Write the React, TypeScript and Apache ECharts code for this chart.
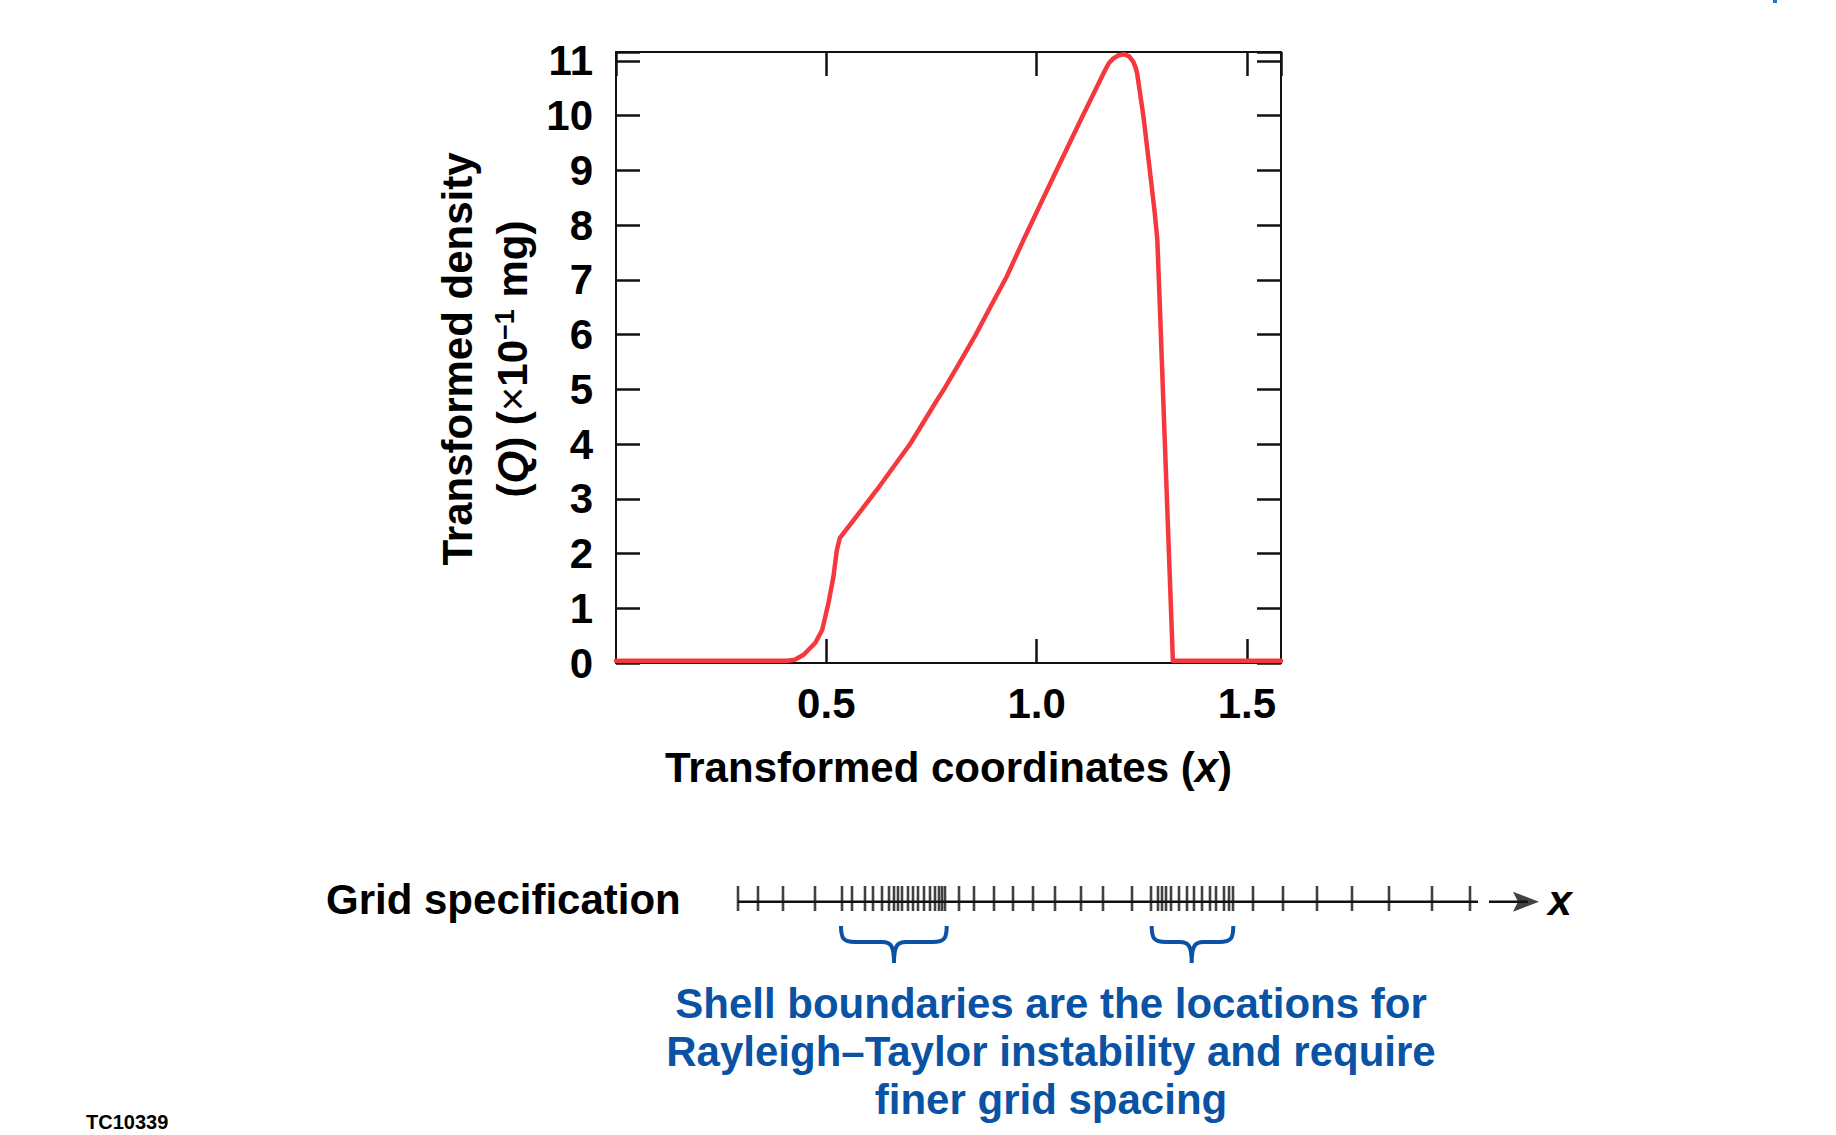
import React, { useEffect, useRef } from "react";
import * as echarts from "echarts";

// ---- Data ----
const curveX = [0, 0.407, 0.425, 0.446, 0.474, 0.49, 0.505, 0.517, 0.525, 0.532, 0.541, 0.62, 0.7, 0.763, 0.779, 0.818, 0.854, 0.892, 0.929, 0.969, 1.04, 1.103, 1.163, 1.172, 1.182, 1.195, 1.208, 1.22, 1.23, 1.236, 1.239, 1.254, 1.27, 1.281, 1.287, 1.293, 1.301, 1.324, 1.581];
const curveQ = [0.04, 0.04, 0.06, 0.15, 0.37, 0.6, 1.09, 1.58, 2.06, 2.28, 2.37, 3.16, 4.01, 4.8, 4.99, 5.5, 5.98, 6.53, 7.06, 7.73, 8.88, 9.89, 10.83, 10.96, 11.04, 11.1, 11.12, 11.08, 10.98, 10.86, 10.77, 9.98, 8.94, 8.21, 7.73, 6.51, 4.83, 0.04, 0.04];

// grid-specification tick locations along the schematic x line (arbitrary units)
const gridTicks = [0, 20, 45, 77, 104, 114, 127, 135, 144, 151, 156, 160, 164, 170, 175, 180, 186, 192, 197, 201, 204, 207, 221, 236, 256, 275, 295, 317, 343, 365, 394, 413, 420, 424, 428, 433, 441, 449, 456, 464, 472, 478, 486, 491, 495, 515, 545, 579, 614, 651, 694, 732];

const xTickLabels = ["0.5", "1.0", "1.5"];
const yTickLabels = ["0", "1", "2", "3", "4", "5", "6", "7", "8", "9", "10", "11"];

const X_MAX = 1.581;
const Y_MAX = 11.16;
const LINE_END = 740;
const AXIS_END = 810;
const LINE_V = 0.372;

const FONT = '"Liberation Sans", Arial, Helvetica, sans-serif';
const RED = "#f5383d";
const BLUE = "#0a52a3";
const INK = "#111";

function bracePath(w: number, c: number): string {
  return `M 0 0 C 0 12 2 16 14 16 L ${c - 12} 16 C ${c - 3} 16 ${c} 20 ${c} 37 C ${c} 20 ${c + 3} 16 ${c + 12} 16 L ${w - 14} 16 C ${w - 2} 16 ${w} 12 ${w} 0`;
}

let registered = false;
function registerShapes() {
  if (registered) return;
  registered = true;
  echarts.graphic.registerShape("brace1", echarts.graphic.extendPath(bracePath(105.7, 53), {}));
  echarts.graphic.registerShape("brace2", echarts.graphic.extendPath(bracePath(81.6, 40), {}));
}

export default function App() {
  const ref = useRef<HTMLDivElement>(null);

  useEffect(() => {
    if (!ref.current) return;
    registerShapes();
    const chart = echarts.init(ref.current, undefined, { renderer: "svg" });

    const xFmt = (v: number) => {
      const s = v.toFixed(1);
      return xTickLabels.includes(s) && Math.abs(v * 2 - Math.round(v * 2)) < 1e-9 ? s : "";
    };
    const yFmt = (v: number) => {
      const s = String(Math.round(v));
      return Math.abs(v - Math.round(v)) < 1e-9 && yTickLabels.includes(s) ? s : "";
    };

    const axisLine = { show: true, onZero: false, lineStyle: { color: INK, width: 2 } };
    const axisTick = { show: true, inside: true, length: 24, lineStyle: { color: INK, width: 2.5 } };
    const labelStyle = { fontSize: 42, fontWeight: "bold", color: "#000", fontFamily: FONT };

    const option: any = {
      animation: false,
      backgroundColor: "#ffffff",
      textStyle: { fontFamily: FONT },
      grid: [
        { left: 616, top: 52, width: 665, height: 611 },
        { left: 738, top: 886, width: AXIS_END, height: 25 },
      ],
      xAxis: [
        {
          type: "value", gridIndex: 0, position: "bottom", min: 0, max: X_MAX, interval: 0.5,
          axisLine, axisTick, splitLine: { show: false },
          axisLabel: { ...labelStyle, margin: 19, formatter: xFmt, showMinLabel: false, showMaxLabel: false },
          name: "Transformed coordinates ({i|x})", nameLocation: "middle", nameGap: 83,
          nameTextStyle: { ...labelStyle, rich: { i: { ...labelStyle, fontStyle: "italic" } } },
        },
        {
          type: "value", gridIndex: 0, position: "top", min: 0, max: X_MAX, interval: 0.5,
          axisLine, axisTick, splitLine: { show: false }, axisLabel: { show: false },
        },
        { type: "value", gridIndex: 1, min: 0, max: AXIS_END, show: false },
      ],
      yAxis: [
        {
          type: "value", gridIndex: 0, position: "left", min: 0, max: Y_MAX, interval: 1,
          axisLine, axisTick, splitLine: { show: false },
          axisLabel: { ...labelStyle, margin: 23, formatter: yFmt },
        },
        {
          type: "value", gridIndex: 0, position: "right", min: 0, max: Y_MAX, interval: 1,
          axisLine, axisTick, splitLine: { show: false }, axisLabel: { show: false },
        },
        { type: "value", gridIndex: 1, min: 0, max: 1, show: false },
      ],
      series: [
        {
          type: "line", xAxisIndex: 0, yAxisIndex: 0, z: 5,
          data: curveX.map((x, i) => [x, curveQ[i]]),
          symbol: "none", smooth: false,
          lineStyle: { color: RED, width: 4.5, cap: "round", join: "round" },
        },
        {
          type: "line", xAxisIndex: 2, yAxisIndex: 2,
          data: [[0, LINE_V], [LINE_END, LINE_V]],
          symbol: "none", lineStyle: { color: INK, width: 2.5 },
        },
        {
          type: "scatter", xAxisIndex: 2, yAxisIndex: 2,
          data: gridTicks.map((p) => [p, 0.5]),
          symbol: "rect", symbolSize: [2.6, 25], itemStyle: { color: INK },
        },
        {
          type: "line", xAxisIndex: 2, yAxisIndex: 2,
          data: [[751, LINE_V], [790, LINE_V]],
          symbol: "none", lineStyle: { color: INK, width: 2.5 },
        },
        {
          type: "scatter", xAxisIndex: 2, yAxisIndex: 2,
          data: [[788, LINE_V]],
          symbol: "path://M0,0 L26,10 L0,20 L5,10 Z", symbolSize: [26, 20], symbolKeepAspect: false,
          itemStyle: { color: INK },
        },
      ],
      graphic: [
        {
          type: "text", x: 457, y: 359, rotation: Math.PI / 2,
          style: { text: "Transformed density", fontSize: 42, fontWeight: "bold", fontFamily: FONT, fill: "#000", align: "center", verticalAlign: "middle", textAlign: "center", textVerticalAlign: "middle" },
        },
        {
          type: "text", x: 512, y: 359, rotation: Math.PI / 2,
          style: {
            text: "({q|Q}) ({n|×}10{s|−1} mg)",
            fontSize: 42, fontWeight: "bold", fontFamily: FONT, fill: "#000",
            align: "center", verticalAlign: "middle", textAlign: "center", textVerticalAlign: "middle",
            rich: {
              q: { fontSize: 42, fontWeight: "bold", fontStyle: "italic", fontFamily: FONT, fill: "#000" },
              n: { fontSize: 42, fontWeight: "normal", fontFamily: FONT, fill: "#000" },
              s: { fontSize: 27, fontWeight: "bold", fontFamily: FONT, fill: "#000", verticalAlign: "top", lineHeight: 27 },
            },
          },
        },
        {
          type: "text", x: 326, y: 899,
          style: { text: "Grid specification", fontSize: 42, fontWeight: "bold", fontFamily: FONT, fill: "#000", align: "left", verticalAlign: "middle", textAlign: "left", textVerticalAlign: "middle" },
        },
        {
          type: "text", x: 1548, y: 900,
          style: { text: "x", fontSize: 43, fontWeight: "bold", fontStyle: "italic", fontFamily: FONT, fill: "#000", align: "left", verticalAlign: "middle", textAlign: "left", textVerticalAlign: "middle" },
        },
        { type: "brace1", x: 841, y: 926, style: { fill: "none", stroke: BLUE, lineWidth: 4 } },
        { type: "brace2", x: 1151.7, y: 926, style: { fill: "none", stroke: BLUE, lineWidth: 4 } },
        {
          type: "text", x: 1051, y: 1051,
          style: {
            text: "Shell boundaries are the locations for\nRayleigh–Taylor instability and require\nfiner grid spacing",
            fontSize: 42, fontWeight: "bold", fontFamily: FONT, fill: BLUE, lineHeight: 48,
            align: "center", verticalAlign: "middle", textAlign: "center", textVerticalAlign: "middle",
          },
        },
        {
          type: "text", x: 86, y: 1122,
          style: { text: "TC10339", fontSize: 20, fontWeight: "bold", fontFamily: FONT, fill: "#000", align: "left", verticalAlign: "middle", textAlign: "left", textVerticalAlign: "middle" },
        },
        { type: "rect", shape: { x: 1773, y: 0, width: 4, height: 3 }, style: { fill: "#2a6fd6" } },
      ],
    };

    chart.setOption(option);
    return () => chart.dispose();
  }, []);

  return (
    <div
      ref={ref}
      style={{ position: "absolute", left: 0, top: 0, width: 1836, height: 1135, background: "#fff" }}
    />
  );
}
